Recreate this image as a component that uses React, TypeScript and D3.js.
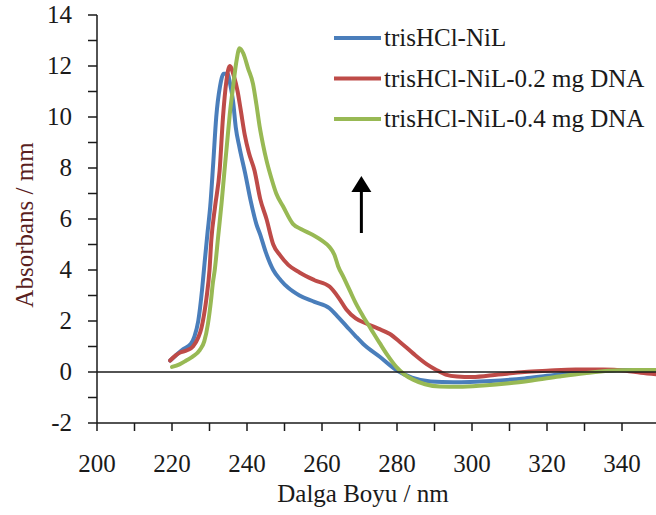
import * as d3 from 'd3'

// wavelength (nm) / absorbance pairs
const blueNm = [219.5, 221, 223, 225, 226, 227, 228, 228.7, 229.5, 230.2, 231, 231.8, 232.8, 233.8, 234.8, 235.5, 236.3, 237, 238, 239.5, 241, 242.5, 243.5, 245, 247, 249, 251, 254, 258, 262, 264, 266.5, 269, 271, 275.4, 279.8, 284, 289, 295, 305, 314, 320, 328, 335, 341, 350]
const blueAbs = [0.45, 0.65, 0.9, 1.1, 1.4, 2.0, 3.2, 4.3, 5.5, 6.5, 8.2, 10.0, 11.2, 11.7, 11.7, 11.3, 10.6, 9.6, 8.8, 7.8, 6.7, 5.8, 5.4, 4.7, 4.0, 3.6, 3.3, 3.0, 2.75, 2.5, 2.2, 1.8, 1.4, 1.1, 0.6, 0.08, -0.22, -0.37, -0.4, -0.35, -0.25, -0.15, -0.02, 0.05, 0.08, 0.08]

const redNm = [219.5, 221, 222, 224, 225.6, 227, 227.8, 228.6, 229.2, 230, 230.5, 231.5, 232.7, 233.6, 234.5, 235.4, 236.5, 237.5, 238.3, 239.4, 240.5, 242, 243.5, 245.2, 247, 248.7, 251, 254, 258, 262, 264.5, 266.5, 269, 271.8, 275, 278, 281, 284.3, 288, 290.5, 293, 296, 300, 307, 314, 320, 327.6, 335, 341, 345, 350]
const redAbs = [0.45, 0.65, 0.75, 0.85, 1.0, 1.35, 1.7, 2.3, 2.9, 4.0, 5.2, 6.5, 7.9, 10.0, 11.4, 12.0, 11.6, 11.0, 10.3, 9.3, 8.6, 7.9, 6.8, 6.0, 5.0, 4.6, 4.2, 3.9, 3.6, 3.35, 2.9, 2.45, 2.1, 1.9, 1.7, 1.5, 1.15, 0.73, 0.3, 0.08, -0.1, -0.18, -0.2, -0.1, 0.0, 0.05, 0.1, 0.1, 0.05, -0.03, -0.1]

const greenNm = [220, 222, 223.8, 225.5, 227.4, 228.6, 229.6, 230.4, 230.9, 231.4, 232.3, 233.2, 234, 234.7, 235.4, 236.3, 237.2, 238, 239, 240.3, 241.6, 242.5, 243.4, 244.3, 245.2, 246.5, 247.8, 249.6, 252.3, 254.5, 257.6, 260, 262, 263.3, 264.3, 265.8, 267.4, 269, 270.9, 273, 275.4, 277.5, 279.8, 282, 284.3, 287.5, 291.4, 296.5, 303, 309.9, 316, 323.2, 330, 336.5, 343, 350]
const greenAbs = [0.2, 0.3, 0.45, 0.6, 0.86, 1.2, 1.9, 2.8, 3.5, 4.0, 5.3, 6.6, 7.9, 9.0, 10.1, 11.2, 12.2, 12.7, 12.5, 11.9, 11.3, 10.5, 9.6, 8.9, 8.3, 7.6, 7.0, 6.5, 5.8, 5.6, 5.37, 5.15, 4.9, 4.6, 4.15, 3.7, 3.2, 2.7, 2.2, 1.7, 1.13, 0.65, 0.2, -0.1, -0.3, -0.48, -0.57, -0.58, -0.53, -0.44, -0.33, -0.18, -0.05, 0.05, 0.08, 0.08]

const seriesNames = ['trisHCl-NiL', 'trisHCl-NiL-0.2 mg DNA', 'trisHCl-NiL-0.4 mg DNA']
const seriesColors = ['#4a7ebb', '#be4b48', '#98b954']

const xTickLabels = [200, 220, 240, 260, 280, 300, 320, 340]
const yTickLabels = [-2, 0, 2, 4, 6, 8, 10, 12, 14]

const W = 656
const H = 515
const ink = '#1a1a1a'

function Label(props: { x: number; y: number; anchor?: string; color?: string; transform?: string; children: any }) {
  return (
    <text
      x={props.x}
      y={props.y}
      transform={props.transform}
      fontFamily="Times New Roman"
      fontSize={25}
      style={{ fontFamily: `"Times New Roman"`, fontSize: '25px', fill: props.color || ink, textAnchor: (props.anchor || 'start') as any }}
    >
      {props.children}
    </text>
  )
}

export default function App() {
  const x = d3.scaleLinear().domain([200, 350]).range([97, 659.5])
  const y = d3.scaleLinear().domain([-2, 14]).range([423, 15])

  const series = [
    { nm: blueNm, abs: blueAbs },
    { nm: redNm, abs: redAbs },
    { nm: greenNm, abs: greenAbs },
  ]
  const line = d3
    .line<[number, number]>()
    .x((d) => x(d[0]))
    .y((d) => y(d[1]))
    .curve(d3.curveMonotoneX)

  const xMinor = d3.range(200, 351, 10)
  const yMinor = d3.range(-2, 15, 1)
  const arrowX = x(270.5)

  return (
    <svg width={W} height={H} style={{ position: 'absolute', left: 0, top: 0, background: '#fff' }}>
      <g>
        {series.map((s, i) => (
          <path
            key={i}
            d={line(s.nm.map((n, j) => [n, s.abs[j]] as [number, number])) || ''}
            fill="none"
            stroke={seriesColors[i]}
            strokeWidth={4}
            strokeLinejoin="round"
            strokeLinecap="round"
          />
        ))}
      </g>

      {/* zero line */}
      <line x1={x(200)} x2={W} y1={y(0)} y2={y(0)} stroke={ink} strokeWidth={1.5} />

      {/* y axis */}
      <line x1={x(200)} x2={x(200)} y1={y(14)} y2={y(-2)} stroke={ink} strokeWidth={1.5} />
      {yMinor.map((v) => (
        <line key={v} x1={x(200) - 9} x2={x(200)} y1={y(v)} y2={y(v)} stroke={ink} strokeWidth={1.5} />
      ))}
      {yTickLabels.map((v) => (
        <Label key={v} x={72} y={y(v) + 8} anchor="end">
          {v}
        </Label>
      ))}

      {/* x axis */}
      <line x1={x(200)} x2={W} y1={y(-2)} y2={y(-2)} stroke={ink} strokeWidth={1.5} />
      {xMinor.map((v) => (
        <line key={v} x1={x(v)} x2={x(v)} y1={y(-2)} y2={y(-2) + 8} stroke={ink} strokeWidth={1.5} />
      ))}
      {xTickLabels.map((v) => (
        <Label key={v} x={x(v)} y={472} anchor="middle">
          {v}
        </Label>
      ))}

      <Label x={363} y={502} anchor="middle">
        Dalga Boyu / nm
      </Label>
      <Label x={0} y={0} transform="translate(33, 225) rotate(-90)" anchor="middle" color="#5a1f1f">
        Absorbans / mm
      </Label>

      {/* legend */}
      {seriesNames.map((name, i) => (
        <g key={name} transform={`translate(334, ${38 + i * 40.5})`}>
          <line x1={0} x2={47} y1={0} y2={0} stroke={seriesColors[i]} strokeWidth={4} />
          <Label x={50} y={8}>
            {name}
          </Label>
        </g>
      ))}

      {/* arrow */}
      <line x1={arrowX} x2={arrowX} y1={233} y2={188} stroke="#000" strokeWidth={3} />
      <path d={`M${arrowX},176 L${arrowX + 10},192 L${arrowX - 10},192 Z`} fill="#000" />
    </svg>
  )
}
